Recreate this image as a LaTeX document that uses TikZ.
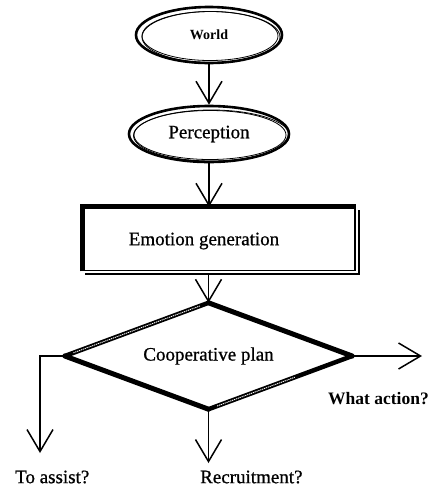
\documentclass[tikz,border=0pt]{standalone}
\usepackage{fontspec}
\setmainfont{Liberation Serif}
\newfontfamily\heavyserif{Liberation Serif}[FakeBold=0.8]
\usetikzlibrary{arrows.meta,shapes.geometric,calc}
\begin{document}
\begin{tikzpicture}[x=1pt,y=-1pt,
  flow/.style={line width=1.5pt, -{Straight Barb[length=22pt,width=26pt]}},
  lbl/.style={font=\heavyserif\fontsize{19}{22}\selectfont, inner sep=0pt},
  oval/.style={ellipse, inner sep=0pt, line width=2.6pt, draw},
  innerline/.style={line width=0.8pt},
  solidedge/.style={line width=5pt, line cap=round},
  hatchedge/.style={line width=4.5pt, line cap=round},
  hatchmark/.style={line width=0.9pt, white, dash pattern=on 1.2pt off 0.8pt}]
\useasboundingbox (0,0) rectangle (431,491);

% ---- World (oval with an inner rim) ----
\node[oval, minimum width=146pt, minimum height=56pt,
      font=\bfseries\fontsize{14}{16}\selectfont] (world) at (209,35) {World};
\draw[innerline] ([xshift=1pt,yshift=-1pt]world.center) ellipse [x radius=68, y radius=24.5];
\draw[innerline] ([xshift=2pt,yshift=-2pt]world.center) ellipse [x radius=69, y radius=25.5];

% ---- Perception ----
\node[oval, minimum width=160pt, minimum height=56pt, lbl, draw, line width=2.6pt]
      (perc) at (209,134) {Perception};
\draw[innerline] ([xshift=1pt,yshift=-1pt]perc.center) ellipse [x radius=76, y radius=24.5];
\draw[innerline] ([xshift=2.5pt,yshift=-1.5pt]perc.center) ellipse [x radius=78, y radius=25.5];

% ---- Emotion generation box ----
\node[draw, line width=1.5pt, minimum width=272pt, minimum height=63pt, inner sep=0pt]
      (emo) at (219,239) {};
\draw[line width=5pt] (emo.south west) -- (emo.north west) -- (emo.north east);
\draw[line width=1.8pt]
  ([xshift=3pt,yshift=-3pt]emo.south west) -- ([xshift=3pt,yshift=-3pt]emo.south east)
  -- ([xshift=3pt,yshift=-3pt]emo.north east);
\node[lbl] (emotxt) at (204,241) {Emotion generation};

% ---- Cooperative plan decision ----
\node[diamond, aspect=2.7, minimum width=287pt, minimum height=106pt, lbl] (dia) at (208.5,356) {Cooperative plan};
\draw[solidedge] (dia.north) -- (dia.east);
\draw[solidedge] (dia.south) -- (dia.west);
\draw[hatchedge] (dia.west) -- (dia.north);
\draw[hatchedge] (dia.east) -- (dia.south);
\draw[hatchmark] ($(dia.west)!0.06!(dia.north)$) -- ($(dia.west)!0.94!(dia.north)$);
\draw[hatchmark] ($(dia.south)!0.06!(dia.east)$) -- ($(dia.south)!0.6!(dia.east)$);

% ---- Connectors ----
\draw[flow] (world.south) -- (perc.north);
\draw[flow] (perc.south) -- (perc.south |- emo.north);
\draw[flow] ([yshift=-3pt]dia.north |- emo.south) -- (dia.north);

\coordinate (atip) at (40,453);
\coordinate (rtip) at (208.5,463);
\coordinate (wtip) at (422,356);
\draw[flow] (dia.west) -| (atip);
\draw[flow] (dia.south) -- (rtip);
\draw[flow] (dia.east) -- (wtip);

% ---- Outcome labels ----
\node[lbl, anchor=west] (assist) at (15,477) {To assist?};
\node[lbl, anchor=west] (recr) at (200,477) {Recruitment?};
\node[lbl, anchor=west, font=\bfseries\fontsize{17.5}{20}\selectfont] (what) at (328,399) {What action?};
\end{tikzpicture}
\end{document}
